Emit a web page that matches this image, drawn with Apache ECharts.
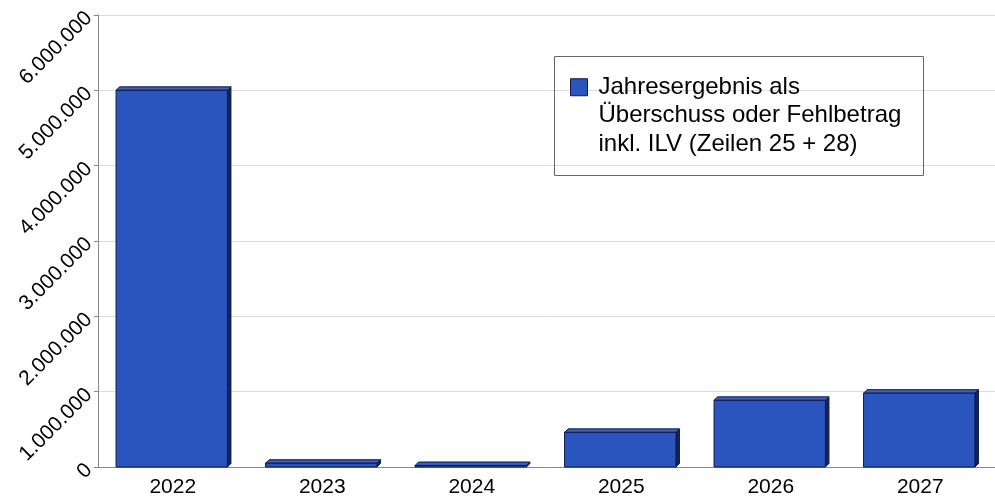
<!DOCTYPE html>
<html><head><meta charset="utf-8">
<script src="https://cdn.jsdelivr.net/npm/echarts@6/dist/echarts.min.js"></script>
<style>html,body{margin:0;padding:0;background:#fff}#c{width:995px;height:498px}</style>
</head><body><div id="c"></div>
<script>
const categories = ['2022','2023','2024','2025','2026','2027'];
const values = [5000000, 50000, 20000, 460000, 885000, 980000];
const seriesName = 'Jahresergebnis als\nÜberschuss oder Fehlbetrag\ninkl. ILV (Zeilen 25 + 28)';
const yMin = 0, yMax = 6000000, yStep = 1000000;

function fmt(v){ return String(v).replace(/\B(?=(\d{3})+(?!\d))/g, '.'); }

const FRONT = '#2b55be', TOP = '#3d5fb4', SIDE = '#14245a', EDGE = '#0d1a4a';
const DEPTH = 3.5;

function renderBar(params, api) {
  const x = api.value(0), v = api.value(1);
  const p1 = api.coord([x, v]);
  const p0 = api.coord([x, 0]);
  const w = api.size([1, 0])[0] * 0.745;
  const x0 = p1[0] - w / 2 - 1, x1 = x0 + w;
  const yt = p1[1], yb = p0[1];
  const d = DEPTH;
  return {
    type: 'group',
    children: [
      { type: 'polygon', shape: { points: [[x1, yt], [x1 + d, yt - d], [x1 + d, yb - d], [x1, yb]] },
        style: { fill: SIDE, stroke: EDGE, lineWidth: 1 } },
      { type: 'polygon', shape: { points: [[x0, yt], [x0 + d, yt - d], [x1 + d, yt - d], [x1, yt]] },
        style: { fill: TOP, stroke: EDGE, lineWidth: 1 } },
      { type: 'rect', shape: { x: x0, y: yt, width: w, height: yb - yt },
        style: { fill: FRONT, stroke: EDGE, lineWidth: 1 } }
    ]
  };
}

const chart = echarts.init(document.getElementById('c'));
chart.setOption({
  animation: false,
  textStyle: { fontFamily: 'Liberation Sans, Arial, sans-serif' },
  grid: { left: 98, right: -10, top: 15, bottom: 29, containLabel: false },
  xAxis: {
    type: 'category', data: categories,
    axisLine: { lineStyle: { color: '#888', width: 1 } },
    axisTick: { alignWithLabel: true, length: 4, lineStyle: { color: '#888' } },
    axisLabel: { color: '#000', fontSize: 21, margin: 10, fontFamily: 'Liberation Sans' }
  },
  yAxis: {
    type: 'value', min: yMin, max: yMax, interval: yStep,
    axisLine: { show: true, lineStyle: { color: '#888' } },
    axisTick: { show: true, length: 4, lineStyle: { color: '#888' } },
    splitLine: { lineStyle: { color: '#dcdcdc' } },
    axisLabel: { color: '#000', fontSize: 21, rotate: 45, margin: 9, formatter: fmt, fontFamily: 'Liberation Sans' }
  },
  legend: {
    left: 570, top: 16, padding: 0, itemWidth: 17, itemHeight: 17,
    icon: 'rect', selectedMode: false,
    formatter: function (n) { return '\n\n' + n; },
    itemStyle: { color: FRONT, borderColor: EDGE, borderWidth: 1 },
    textStyle: { fontSize: 24, lineHeight: 28.5, color: '#000', padding: [0, 0, 0, 6], fontFamily: 'Liberation Sans' }
  },
  graphic: [{
    type: 'rect', left: 552, top: 54, shape: { width: 369, height: 119 },
    style: { fill: 'none', stroke: '#666', lineWidth: 1 }, z: 10
  }],
  series: [{
    type: 'custom', name: seriesName,
    data: values.map(function (v, i) { return [i, v]; }),
    encode: { x: 0, y: 1 },
    itemStyle: { color: FRONT },
    renderItem: renderBar
  }]
});
</script></body></html>
